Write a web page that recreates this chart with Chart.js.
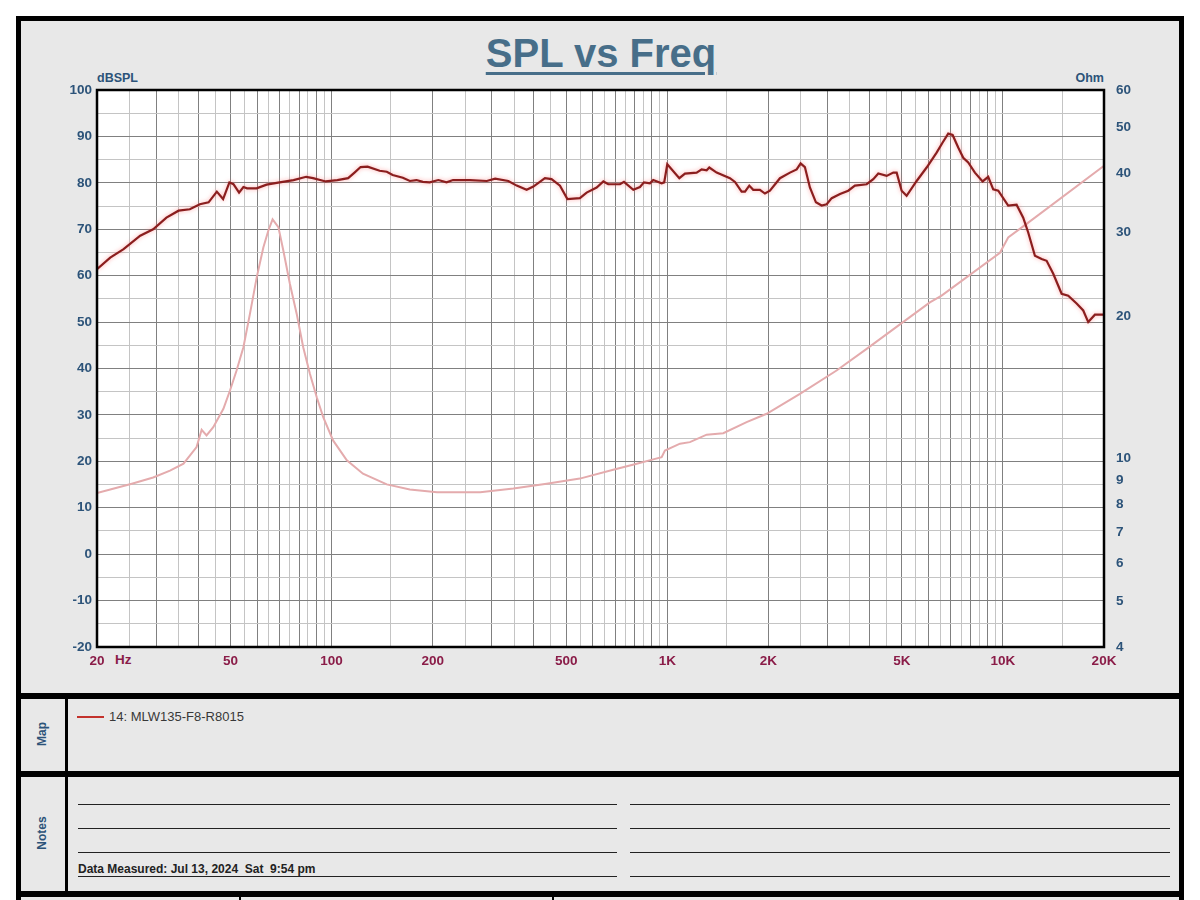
<!DOCTYPE html>
<html>
<head>
<meta charset="utf-8">
<script src="https://cdn.jsdelivr.net/npm/chart.js@4.4.1/dist/chart.umd.min.js"></script>
<style>
html, body { margin: 0; padding: 0; width: 1200px; height: 900px; overflow: hidden; background: #fff;
  font-family: "Liberation Sans", Arial, sans-serif; }
.abs { position: absolute; }
#frame { left: 16px; top: 16px; width: 1158px; height: 900px; border: 5px solid #000; border-bottom: none; background: #e8e8e8; }
.hbar { left: 16px; width: 1168px; height: 6px; background: #000; }
.title { left: 0; top: 33px; width: 1202px; text-align: center; font-size: 40px; line-height: 40px; font-weight: bold;
  color: #476e89; text-decoration: underline; text-decoration-thickness: 3px; text-underline-offset: 5px; }
.axlbl { font-size: 12.5px; line-height: 13px; font-weight: bold; color: #2c5379; }
.side { font-size: 12px; font-weight: bold; color: #2c5379; transform: rotate(-90deg); transform-origin: center; width: 60px; text-align: center; }
.nline { height: 1px; background: #222; }
#chartBox { left: 21px; top: 21px; width: 1157px; height: 672px; }
</style>
</head>
<body>
<div id="frame" class="abs"></div>
<div class="abs title">SPL vs Freq</div>
<div class="abs axlbl" style="left:97px;top:72px;">dBSPL</div>
<div class="abs axlbl" style="left:1060px;top:72px;width:44px;text-align:right;">Ohm</div>
<div class="abs" style="left:115px;top:652px;font-size:13.5px;font-weight:bold;color:#8a1c48;">Hz</div>
<div class="abs" style="left:1044px;top:610px;font:italic 22px 'DejaVu Serif', serif;color:#000;letter-spacing:-1px;">LMS</div>

<div id="chartBox" class="abs"><canvas id="spl" width="1157" height="672"></canvas></div>

<div class="abs hbar" style="top:693px;"></div>
<div class="abs hbar" style="top:771px;"></div>
<div class="abs hbar" style="top:891px;"></div>
<div class="abs" style="left:65px;top:693px;width:3px;height:204px;background:#000;"></div>
<div class="abs" style="left:239px;top:897px;width:2px;height:10px;background:#000;"></div>
<div class="abs" style="left:552px;top:897px;width:2px;height:10px;background:#000;"></div>

<div class="abs side" style="left:12px;top:727px;">Map</div>
<div class="abs side" style="left:12px;top:826px;">Notes</div>

<div class="abs" style="left:77px;top:716px;width:27px;height:2px;background:#c3322c;"></div>
<div class="abs" style="left:109px;top:709px;font-size:13px;color:#383838;">14: MLW135-F8-R8015</div>

<div class="abs nline" style="left:78px;top:804px;width:539px;"></div>
<div class="abs nline" style="left:78px;top:828px;width:539px;"></div>
<div class="abs nline" style="left:78px;top:852px;width:539px;"></div>
<div class="abs nline" style="left:78px;top:876px;width:539px;"></div>
<div class="abs nline" style="left:630px;top:804px;width:540px;"></div>
<div class="abs nline" style="left:630px;top:828px;width:540px;"></div>
<div class="abs nline" style="left:630px;top:852px;width:540px;"></div>
<div class="abs nline" style="left:630px;top:876px;width:540px;"></div>
<div class="abs" style="left:78px;top:862px;font-size:12px;font-weight:bold;color:#222;white-space:pre;">Data Measured: Jul 13, 2024  Sat  9:54 pm</div>

<script>
// SPL curve (Hz / dBSPL)
const splFreq = [20, 21.9, 24, 26.9, 29.4, 32.2, 35, 37.8, 40.5, 43, 45.5, 47.5, 49.6, 51, 53, 54.6, 56, 59.8,
  64, 70, 77, 84, 88, 96, 104, 112, 117, 122, 128, 139, 146, 152, 163, 171, 179, 187, 196,
  208, 220, 230, 258, 290, 307, 336, 356, 381, 399, 432, 452, 479, 504, 549, 575, 616, 645, 667,
  723, 743, 792, 829, 852, 888, 908, 962, 979, 1000, 1086, 1129, 1223, 1266, 1310, 1334, 1403,
  1537, 1591, 1665, 1704, 1755, 1803, 1888, 1954, 2022, 2166, 2320, 2429, 2496, 2570, 2660, 2772,
  2883, 2984, 3089, 3270, 3460, 3622, 3926, 4108, 4252, 4503, 4713, 4823, 4991, 5164, 5532, 5924,
  6344, 6612, 6870, 7080, 7358, 7615, 7880, 8250, 8697, 9038, 9354, 9682, 10366, 10980, 11490,
  11892, 12452, 13038, 13492, 14120, 14955, 15648, 16576, 17345, 17950, 18792, 20000];
const splDb = [61.4, 63.9, 65.7, 68.6, 70.0, 72.5, 74.0, 74.3, 75.4, 75.8, 78.1, 76.5, 80.1, 79.7, 77.9, 79.1, 78.8, 78.8,
  79.6, 80.1, 80.6, 81.3, 81.0, 80.3, 80.6, 81.0, 82.2, 83.4, 83.5, 82.6, 82.4, 81.7, 81.1, 80.4, 80.6, 80.2, 80.1,
  80.6, 80.1, 80.6, 80.6, 80.4, 80.9, 80.4, 79.4, 78.5, 79.2, 81.0, 80.8, 79.4, 76.5, 76.7, 77.9, 79.0, 80.3, 79.7,
  79.7, 80.2, 78.5, 79.1, 80.1, 79.9, 80.6, 79.9, 80.1, 84.0, 81.0, 82.0, 82.2, 82.9, 82.7, 83.3, 82.2,
  81.0, 80.2, 78.1, 78.1, 79.4, 78.5, 78.5, 77.7, 78.3, 81.0, 82.2, 82.9, 84.2, 83.4, 79.0, 75.8,
  75.1, 75.4, 76.7, 77.6, 78.3, 79.4, 79.7, 80.8, 82.0, 81.5, 82.2, 82.2, 78.3, 77.2, 80.4, 83.3,
  86.5, 88.7, 90.6, 90.3, 87.6, 85.4, 84.4, 82.2, 80.3, 81.3, 78.6, 78.3, 75.1, 75.3, 72.5,
  69.3, 64.3, 63.6, 63.2, 60.4, 56.1, 55.7, 54.0, 52.5, 50.0, 51.6, 51.6];

// impedance curve (Hz / Ohm)
const zFreq = [20, 21.9, 25.4, 29.4, 33, 36.2, 39.6, 41, 42.4, 44.4, 47.6, 49.8, 52.1, 54.6, 57.1, 59.8, 62.6,
  64.8, 66.7, 69.4, 71.8, 75.1, 78.7, 82.3, 86.2, 90.3, 94.4, 101, 111, 124, 146, 171, 206, 277, 348,
  437, 549, 690, 811, 908, 962, 984, 1091, 1168, 1310, 1468, 1723, 1977, 2484, 3194, 3926, 4876,
  6058, 6564, 9796, 10366, 11760, 20000];
const zOhm = [8.46, 8.60, 8.85, 9.12, 9.43, 9.75, 10.57, 11.50, 11.19, 11.65, 12.74, 13.92, 15.34, 17.18, 20.2, 24.1, 27.9,
  30.3, 32.0, 30.8, 27.5, 23.4, 20.2, 17.18, 15.09, 13.47, 12.23, 10.92, 9.91, 9.29, 8.82, 8.60, 8.49, 8.49, 8.64,
  8.85, 9.07, 9.47, 9.75, 9.96, 10.07, 10.40, 10.75, 10.83, 11.23, 11.31, 11.94, 12.43, 13.70, 15.34, 17.04, 19.08,
  21.37, 22.08, 27.2, 29.3, 31.3, 41.5];

// axes
const xTickValues = [20, 50, 100, 200, 500, 1000, 2000, 5000, 10000, 20000];
const xTickLabels = ["20", "50", "100", "200", "500", "1K", "2K", "5K", "10K", "20K"];
const gridSteps = [1, 1.5, 2, 2.5, 3, 3.5, 4, 4.5, 5, 5.5, 6, 6.5, 7, 7.5, 8, 8.5, 9, 9.5];
const gridDecades = [10, 100, 1000, 10000];
const dbTicks = [-20, -10, 0, 10, 20, 30, 40, 50, 60, 70, 80, 90, 100];
const ohmTicks = [4, 5, 6, 7, 8, 9, 10, 20, 30, 40, 50, 60];

const xGrid = [];
gridDecades.forEach(d => gridSteps.forEach(m => {
    const v = Math.round(m * d);
    if (v >= 20 && v <= 20000) xGrid.push(v);
}));
const dbGrid = [];
for (let v = -20; v <= 100; v += 5) dbGrid.push(v);

function isWhole(v) {
    const m = v / Math.pow(10, Math.floor(Math.log10(v) + 1e-9));
    return Math.abs(m - Math.round(m)) < 1e-6;
}

const tickFont = { family: '"Liberation Sans", Arial, sans-serif', size: 13.5, weight: 'bold' };

const plotFrame = {
    id: 'plotFrame',
    beforeDraw(chart) {
        const { ctx, chartArea: a } = chart;
        ctx.save();
        ctx.fillStyle = '#fff';
        ctx.fillRect(a.left, a.top, a.right - a.left, a.bottom - a.top);
        ctx.restore();
    },
    beforeDatasetDraw(chart, args) {
        if (args.index === 0) {
            chart.ctx.save();
            chart.ctx.shadowColor = 'rgba(255,110,110,0.6)';
            chart.ctx.shadowBlur = 4;
        }
    },
    afterDatasetDraw(chart, args) {
        if (args.index === 0) chart.ctx.restore();
    },
    afterDraw(chart) {
        const { ctx, chartArea: a } = chart;
        ctx.save();
        ctx.strokeStyle = '#000';
        ctx.lineWidth = 2.5;
        ctx.strokeRect(a.left, a.top, a.right - a.left, a.bottom - a.top);
        ctx.restore();
    }
};

new Chart(document.getElementById('spl').getContext('2d'), {
    type: 'line',
    data: {
        datasets: [
            {
                label: 'SPL',
                data: splFreq.map((f, i) => ({ x: f, y: splDb[i] })),
                borderColor: '#8b1e1e',
                borderWidth: 2.2,
                pointRadius: 0,
                tension: 0,
                yAxisID: 'y'
            },
            {
                label: 'Impedance',
                data: zFreq.map((f, i) => ({ x: f, y: zOhm[i] })),
                borderColor: '#e4abad',
                borderWidth: 2,
                pointRadius: 0,
                tension: 0,
                yAxisID: 'y2'
            }
        ]
    },
    options: {
        responsive: false,
        animation: false,
        devicePixelRatio: 1,
        layout: { padding: { top: 69, left: 0, right: 0, bottom: 0 } },
        plugins: { legend: { display: false }, tooltip: { enabled: false } },
        scales: {
            x: {
                type: 'logarithmic',
                min: 20,
                max: 20000,
                afterBuildTicks: s => { s.ticks = xGrid.map(v => ({ value: v })); },
                afterFit: s => { s.height = 46; },
                grid: {
                    color: c => (c.tick && isWhole(c.tick.value)) ? '#808080' : '#c4c4c4',
                    lineWidth: 1,
                    drawTicks: false
                },
                border: { display: false },
                ticks: {
                    autoSkip: false,
                    maxRotation: 0,
                    padding: 6,
                    color: '#8a1c48',
                    font: tickFont,
                    callback: v => {
                        const i = xTickValues.indexOf(v);
                        return i >= 0 ? xTickLabels[i] : '';
                    }
                }
            },
            y: {
                type: 'linear',
                position: 'left',
                min: -20,
                max: 100,
                afterBuildTicks: s => { s.ticks = dbGrid.map(v => ({ value: v })); },
                afterFit: s => { s.width = 76; },
                grid: {
                    color: c => (c.tick && c.tick.value % 10 === 0) ? '#808080' : '#c4c4c4',
                    lineWidth: 1,
                    drawTicks: false
                },
                border: { display: false },
                ticks: {
                    autoSkip: false,
                    padding: 5,
                    color: '#2c5379',
                    font: tickFont,
                    callback: v => dbTicks.includes(v) ? String(v) : ''
                }
            },
            y2: {
                type: 'logarithmic',
                position: 'right',
                min: 4,
                max: 60,
                afterBuildTicks: s => { s.ticks = ohmTicks.map(v => ({ value: v })); },
                afterFit: s => { s.width = 74; },
                grid: { display: false, drawOnChartArea: false },
                border: { display: false },
                ticks: {
                    autoSkip: false,
                    padding: 4,
                    color: '#2c5379',
                    font: tickFont,
                    callback: v => String(v)
                }
            }
        }
    },
    plugins: [plotFrame]
});
</script>
</body>
</html>
